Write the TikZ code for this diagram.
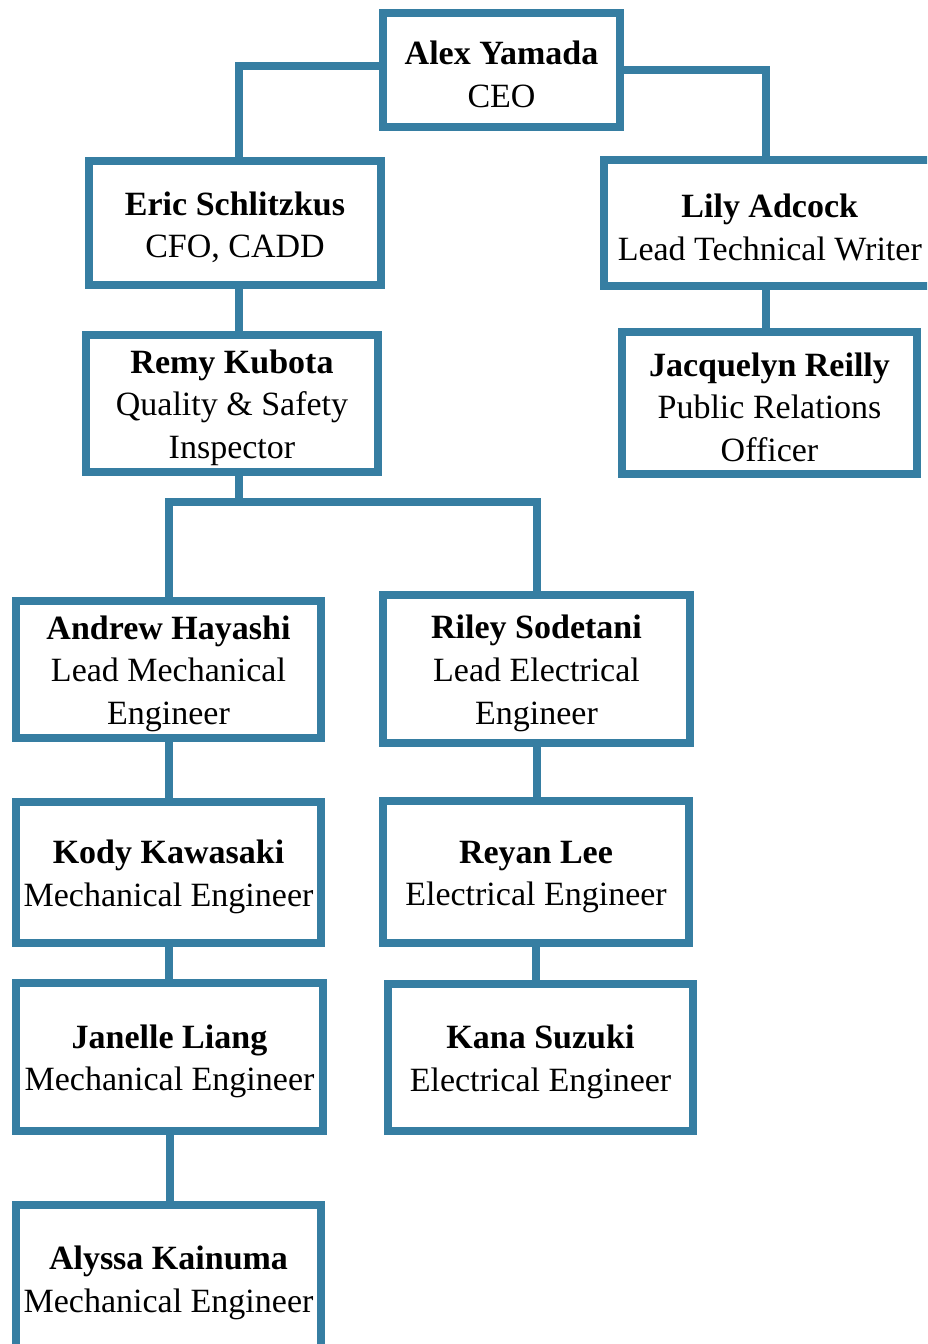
\documentclass[tikz,border=0pt]{standalone}
\usepackage{fontspec}
\setmainfont{Liberation Serif}
\usepackage{tikz}
\definecolor{orgblue}{RGB}{54,126,162}
\newcommand{\who}[2]{\rule{0pt}{24pt}\textbf{#1}\\#2}

\begin{document}
\begin{tikzpicture}[x=0.75pt,y=-0.75pt,
  member/.style={draw=orgblue, line width=6pt, align=center, inner sep=0pt,
    font=\fontsize{25.5}{32}\selectfont},
  link/.style={draw=orgblue, line width=6pt}]
  \useasboundingbox (0,0) rectangle (927,1344);
  \clip (0,0) rectangle (927,1344);
  % boxes
  \node[member, minimum width=177.75pt, minimum height=85.5pt] (ceo) at (501.5,70) {\who{Alex Yamada}{CEO}};
  \node[member, minimum width=219pt, minimum height=93pt] (eric) at (235,223) {\who{Eric Schlitzkus}{CFO, CADD}};
  \node[member, minimum width=248pt, minimum height=94.5pt] (lily) at (769.75,223) {\who{Lily Adcock}{Lead Technical Writer}};
  \node[member, minimum width=221.25pt, minimum height=106.5pt] (jacq) at (769.5,403) {\who{Jacquelyn Reilly}{Public Relations\\Officer}};
  \node[member, minimum width=219pt, minimum height=102.75pt] (remy) at (232,403.5) {\who{Remy Kubota}{Quality \& Safety\\Inspector}};
  \node[member, minimum width=228.75pt, minimum height=102.75pt] (andrew) at (168.5,669.5) {\who{Andrew Hayashi}{Lead Mechanical\\Engineer}};
  \node[member, minimum width=230.25pt, minimum height=111pt] (riley) at (536.5,669) {\who{Riley Sodetani}{Lead Electrical\\Engineer}};
  \node[member, minimum width=228.75pt, minimum height=105.75pt] (kody) at (168.5,872.5) {\who{Kody Kawasaki}{Mechanical Engineer}};
  \node[member, minimum width=229.5pt, minimum height=106.5pt] (reyan) at (536,872) {\who{Reyan Lee}{Electrical Engineer}};
  \node[member, minimum width=230.25pt, minimum height=111pt] (janelle) at (169.5,1057) {\who{Janelle Liang}{Mechanical Engineer}};
  \node[member, minimum width=228.75pt, minimum height=110.25pt] (kana) at (540.5,1057.5) {\who{Kana Suzuki}{Electrical Engineer}};
  \node[member, minimum width=228.75pt, minimum height=110.25pt] (alyssa) at (168.5,1278.5) {\who{Alyssa Kainuma}{Mechanical Engineer}};
  % connectors
  \coordinate (spine) at (239,502);
  \draw[link] ([yshift=3pt]ceo.west) -| (spine |- eric.north);
  \draw[link] (ceo.east) -| ([xshift=-3pt]lily.north);
  \draw[link] ([xshift=-3pt]lily.south) -- ([xshift=-3pt]lily.south |- jacq.north);
  \draw[link] (spine |- eric.south) -- (spine |- remy.north);
  \draw[link] (spine |- remy.south) -- (spine);
  \draw[link] (andrew.north) |- (spine) -| (riley.north);
  \draw[link] (andrew.south) -- (andrew.south |- kody.north);
  \draw[link] (riley.south) -- (riley.south |- reyan.north);
  \draw[link] (kody.south) -- (kody.south |- janelle.north);
  \draw[link] (reyan.south) -- (reyan.south |- kana.north);
  \draw[link] (janelle.south) -- (janelle.south |- alyssa.north);
\end{tikzpicture}
\end{document}
